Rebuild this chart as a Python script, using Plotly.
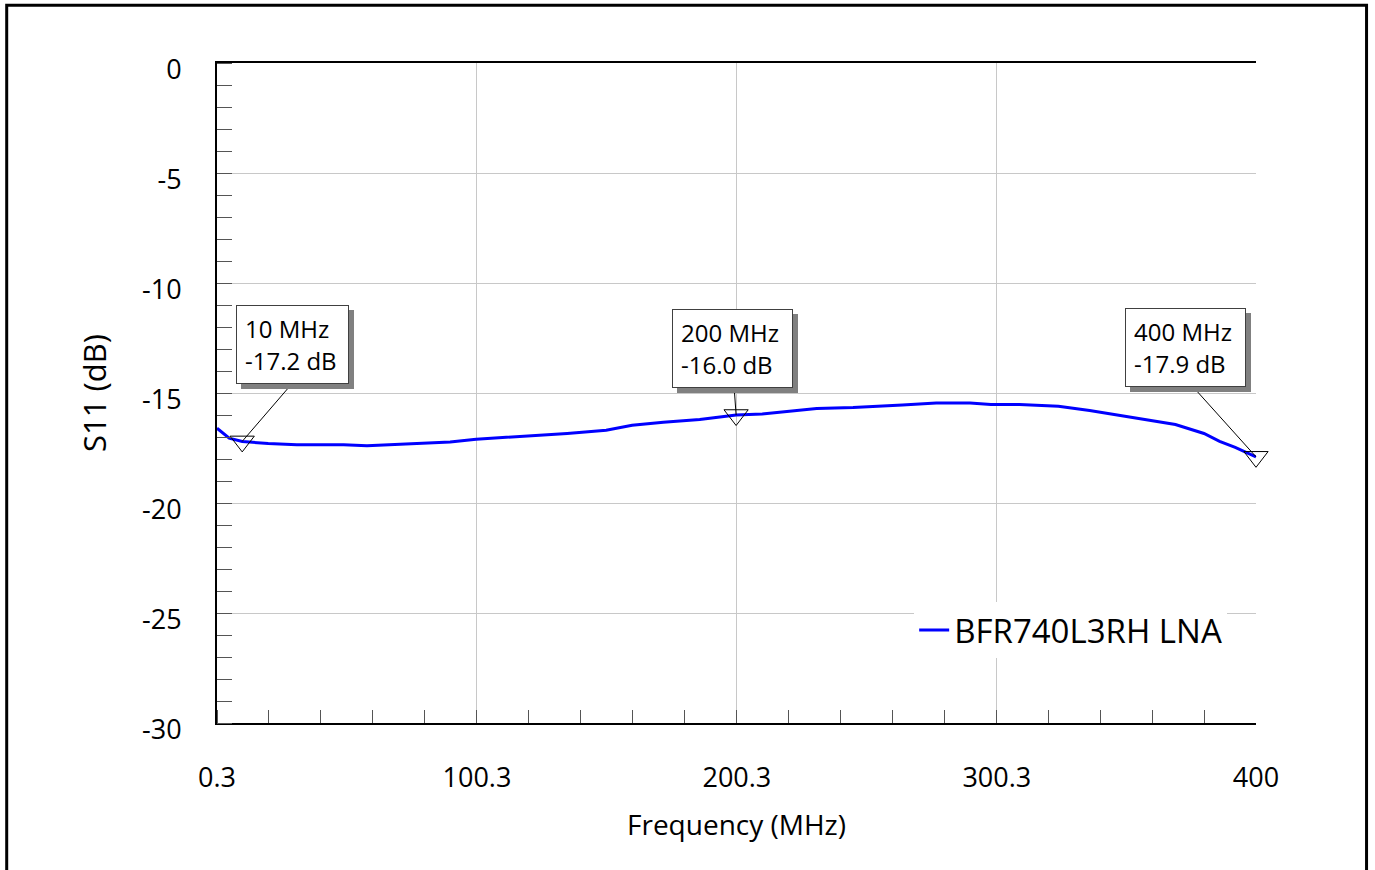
import plotly.graph_objects as go

# Measured input return loss of the LNA
freq_mhz = [0.3, 5, 10, 20, 31, 49, 58, 72, 90, 100, 115, 135, 150, 160, 172, 186,
            200, 210, 231, 245, 264, 277, 290, 298, 309, 324, 336, 354, 369, 380,
            386, 392, 400]
s11_db = [-16.6, -17.05, -17.2, -17.3, -17.35, -17.35, -17.4, -17.33, -17.23, -17.1,
          -17.0, -16.84, -16.69, -16.47, -16.33, -16.2, -16.0, -15.95, -15.7, -15.66,
          -15.54, -15.45, -15.45, -15.52, -15.52, -15.6, -15.8, -16.13, -16.43, -16.84,
          -17.2, -17.47, -17.9]

# Marker readouts
marker_freq = [10, 200, 400]
marker_db = [-17.2, -16.0, -17.9]

x_tickvals = [0.3, 100.3, 200.3, 300.3, 400]
x_ticktext = ["0.3", "100.3", "200.3", "300.3", "400"]
y_tickvals = [0, -5, -10, -15, -20, -25, -30]
y_ticktext = ["0", "-5", "-10", "-15", "-20", "-25", "-30"]

FONT = "Open Sans"

fig = go.Figure()
fig.add_trace(go.Scatter(
    x=freq_mhz, y=s11_db, mode="lines", name="BFR740L3RH LNA",
    line=dict(color="#0000FF", width=3),
))
fig.add_trace(go.Scatter(
    x=marker_freq, y=marker_db, mode="markers", showlegend=False, cliponaxis=False,
    marker=dict(symbol="triangle-down-open", size=21,
                color="black", line=dict(color="black", width=1)),
))

# (box centre offset, leader tail offset, inner box width) in pixels, relative to each marker
box_offsets = [(50, 97), (-3.5, 67), (-70.5, 109)]
leader_offsets = [(50, -58), (-2, -28), (-63, -70)]
box_widths = [95, 103, 103]
BOX_H = 61
PAD = 8

for f, v, (bx, by), (lx, ly), bw in zip(marker_freq, marker_db, box_offsets,
                                       leader_offsets, box_widths):
    label = f"{f:g} MHz<br>{v:.1f} dB"
    # leader line
    fig.add_annotation(x=f, y=v, xref="x", yref="y", text="", showarrow=True,
                       arrowhead=0, arrowwidth=1, arrowcolor="black",
                       ax=lx, ay=ly, standoff=0)
    # drop shadow
    fig.add_annotation(x=f, y=v, xref="x", yref="y", text="&nbsp;", showarrow=False,
                       xshift=bx + 5, yshift=by - 5, width=bw, height=BOX_H,
                       borderpad=PAD, borderwidth=1, bordercolor="#808080",
                       bgcolor="#808080",
                       font=dict(family=FONT, size=24, color="#808080"))
    # label box
    fig.add_annotation(x=f, y=v, xref="x", yref="y", text=label, showarrow=False,
                       xshift=bx, yshift=by, width=bw, height=BOX_H,
                       borderpad=PAD, borderwidth=1, bordercolor="#404040",
                       bgcolor="white", align="left",
                       font=dict(family=FONT, size=24, color="black"))

# outer frame
fig.add_shape(type="rect", xref="paper", yref="paper",
              x0=-0.2024, x1=1.1064, y0=1.0876, y1=-0.25,
              line=dict(color="black", width=3), fillcolor="rgba(0,0,0,0)")

fig.update_layout(
    width=1375, height=870,
    margin=dict(l=216.5, r=119, t=63, b=147),
    paper_bgcolor="white", plot_bgcolor="white",
    font=dict(family=FONT, color="black"),
    showlegend=True,
    legend=dict(x=0.671, y=0.141, xanchor="left", yanchor="middle",
                bgcolor="white", borderwidth=0,
                font=dict(family=FONT, size=33, color="black")),
)

fig.update_xaxes(
    range=[0.3, 400], tickmode="array", tickvals=x_tickvals, ticktext=x_ticktext,
    showgrid=True, gridcolor="#c8c8c8", gridwidth=1,
    ticks="", showline=True, linecolor="black", linewidth=2, mirror=True,
    zeroline=False, tickfont=dict(family=FONT, size=27),
    ticklabelstandoff=30,
    minor=dict(tickmode="linear", tick0=0.3, dtick=20, ticks="inside",
               ticklen=13, tickcolor="#555555", tickwidth=1, showgrid=False),
    title=dict(text="Frequency (MHz)", font=dict(family=FONT, size=28), standoff=21),
)
fig.update_yaxes(
    range=[-30, 0], tickmode="array", tickvals=y_tickvals, ticktext=y_ticktext,
    showgrid=True, gridcolor="#c8c8c8", gridwidth=1,
    ticks="", showline=True, linecolor="black", linewidth=2,
    zeroline=False, tickfont=dict(family=FONT, size=27),
    ticklabelstandoff=28, ticklabelshift=7,
    minor=dict(tickmode="linear", tick0=0, dtick=1, ticks="inside",
               ticklen=15, tickcolor="#555555", tickwidth=1, showgrid=False),
    title=dict(text="S11 (dB)", font=dict(family=FONT, size=31), standoff=26),
)

fig.write_html("out.html")
